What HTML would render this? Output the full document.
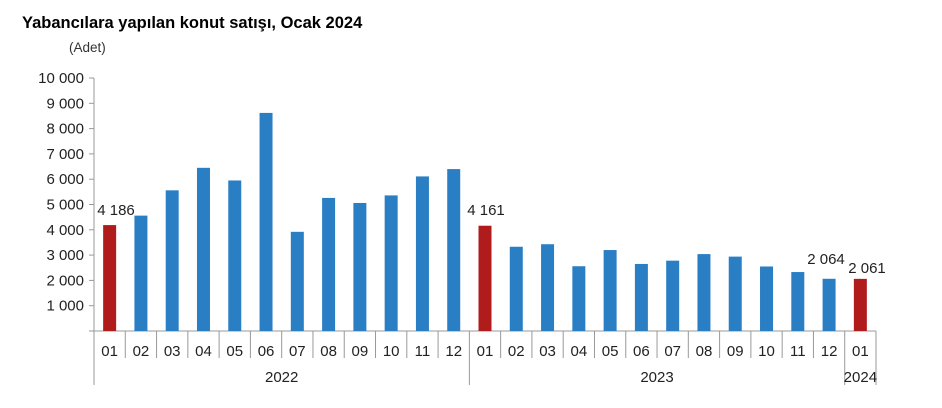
<!DOCTYPE html><html><head><style>body{margin:0;background:#fff}svg text{font-family:"Liberation Sans",sans-serif}</style></head><body>
<svg width="942" height="403" xmlns="http://www.w3.org/2000/svg">
<text x="22" y="28" font-size="16.5" font-weight="bold" fill="#000">Yabancılara yapılan konut satışı, Ocak 2024</text>
<text x="69" y="52" font-size="13.5" fill="#333">(Adet)</text>
</svg>
<script>
const s=document.querySelector('svg'),ns='http://www.w3.org/2000/svg';
function el(t,a,txt){const e=document.createElementNS(ns,t);for(const k in a)e.setAttribute(k,a[k]);if(txt!==undefined)e.textContent=txt;s.appendChild(e);return e;}
const X0=94,Y0=331,k=25.3/1000,W=31.28;
const v=[4186,4560,5560,6450,5950,8620,3920,5260,5060,5360,6110,6400,4161,3330,3430,2560,3200,2650,2780,3040,2940,2550,2330,2064,2061];
const red=[0,12,24];
el('line',{x1:X0,y1:Y0-10000*k,x2:X0,y2:385,stroke:'#999'});
for(let i=1;i<=10;i++){const y=Y0-i*1000*k;el('line',{x1:X0-5,y1:y,x2:X0,y2:y,stroke:'#999'});
el('text',{x:X0-10,y:y+5,'font-size':15,'text-anchor':'end',fill:'#222'},(i==10?'10 000':i+' 000'));}
el('line',{x1:X0-5,y1:Y0,x2:X0+25*W,y2:Y0,stroke:'#999'});
v.forEach((d,i)=>{const cx=X0+W*(i+0.5),h=d*k;
el('rect',{x:cx-6.5,y:Y0-h,width:13,height:h,fill:red.includes(i)?'#b01c1c':'#2a7fc4'});
const m=i%12+1;el('text',{x:cx,y:356,'font-size':15,'text-anchor':'middle',fill:'#222'},(m<10?'0':'')+m);
const bx=X0+W*(i+1);const long=(i==11||i==23||i==24);
el('line',{x1:bx,y1:Y0,x2:bx,y2:long?385:358,stroke:'#999'});});
el('text',{x:X0+W*6,y:382,'font-size':15,'text-anchor':'middle',fill:'#222'},'2022');
el('text',{x:X0+W*18,y:382,'font-size':15,'text-anchor':'middle',fill:'#222'},'2023');
el('text',{x:X0+W*24.5,y:382,'font-size':15,'text-anchor':'middle',fill:'#222'},'2024');
el('text',{x:116,y:215,'font-size':15,'text-anchor':'middle',fill:'#222'},'4 186');
el('text',{x:486,y:215,'font-size':15,'text-anchor':'middle',fill:'#222'},'4 161');
el('text',{x:826,y:264,'font-size':15,'text-anchor':'middle',fill:'#222'},'2 064');
el('text',{x:867,y:273,'font-size':15,'text-anchor':'middle',fill:'#222'},'2 061');
</script></body></html>
